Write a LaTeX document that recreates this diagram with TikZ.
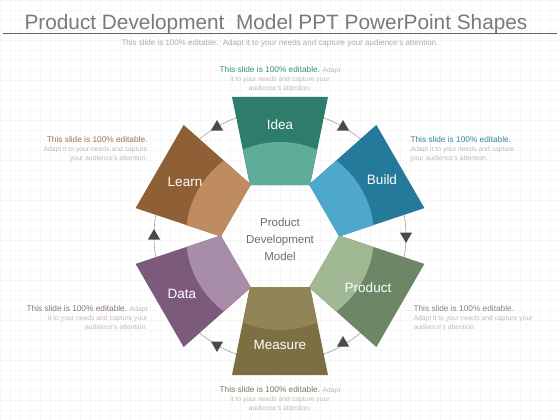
\documentclass[tikz,border=0pt]{standalone}
\usepackage{fontspec}
\setmainfont{Liberation Sans}
\usetikzlibrary{shapes.geometric}
\definecolor{ideaD}{HTML}{2E7D6B}
\definecolor{ideaL}{HTML}{5EAD98}
\definecolor{buildD}{HTML}{257A9B}
\definecolor{buildL}{HTML}{4DA8CB}
\definecolor{prodD}{HTML}{6D8766}
\definecolor{prodL}{HTML}{A0B894}
\definecolor{measD}{HTML}{7C6F42}
\definecolor{measL}{HTML}{918455}
\definecolor{dataD}{HTML}{7B5A7C}
\definecolor{dataL}{HTML}{A88DA8}
\definecolor{learnD}{HTML}{8F5F36}
\definecolor{learnL}{HTML}{BF8C62}
\definecolor{ideaT}{HTML}{3A9080}
\definecolor{buildT}{HTML}{3A86A8}
\definecolor{prodT}{HTML}{7B8C74}
\definecolor{measT}{HTML}{7F7A5E}
\definecolor{dataT}{HTML}{8A6E8A}
\definecolor{learnT}{HTML}{9A7558}
\definecolor{titlegray}{HTML}{7A7A7A}
\definecolor{subgray}{HTML}{ABABAB}
\definecolor{smallgray}{HTML}{BBBBBB}
\definecolor{centergray}{HTML}{6E6E6E}
\definecolor{trigray}{HTML}{4A4A4A}
\definecolor{arcgray}{HTML}{A0A0A0}
\definecolor{gridc}{HTML}{F6F6F6}
\tikzset{
  lbl/.style={text=white, font=\fontsize{13.5}{16}\selectfont},
  tri/.style={regular polygon, regular polygon sides=3, fill=trigray, inner sep=0pt, minimum size=14pt},
  note/.style={text=smallgray, font=\fontsize{6.8}{9}\selectfont},
}
\newcommand{\hd}[1]{{\fontsize{8.3}{9}\selectfont #1}}
\begin{document}
\begin{tikzpicture}[x=1pt,y=-1pt]
\useasboundingbox (0,0) rectangle (560,420);
\fill[white] (0,0) rectangle (560,420);
\draw[gridc, line width=0.3pt, step=10pt] (0,0) grid (560,420);
% title
\node[font=\fontsize{20.8}{24}\selectfont, text=titlegray, anchor=base] (title) at (276,30) {Product Development\ \ Model PPT PowerPoint Shapes};
\coordinate (rl) at (3,34);
\coordinate (rr) at (557,34);
\draw[line width=1pt, titlegray!80!black] (rl) -- (rr);
\node[font=\fontsize{8}{9}\selectfont, text=subgray] (sub) at (280,43) {This slide is 100\% editable.\ \ Adapt it to your needs and capture your audience's attention.};
% connector circle
\coordinate (c) at (280,236);
\draw[arcgray, line width=0.6pt] (c) circle[radius=126pt];
% shapes
\foreach \ang/\dk/\lt in {0/ideaD/ideaL, -60/buildD/buildL, -120/prodD/prodL, 180/measD/measL, 120/dataD/dataL, 60/learnD/learnL}{
  \begin{scope}[shift={(280,236)}, rotate=\ang]
    \fill[\dk] (-48,-139) -- (48,-139) -- (30,-51) -- (-30,-51) -- cycle;
    \begin{scope}
      \clip (-48,-139) -- (48,-139) -- (30,-51) -- (-30,-51) -- cycle;
      \fill[\lt] (0,0) circle[radius=94pt];
    \end{scope}
  \end{scope}
}
% labels
\node[lbl] (idea) at (280,125) {Idea};
\node[lbl] (build) at (382,180) {Build};
\node[lbl] (product) at (368,288) {Product};
\node[lbl] (measure) at (280,345) {Measure};
\node[lbl] (data) at (182,294) {Data};
\node[lbl] (learn) at (185,182) {Learn};
\node[align=center, text=centergray, font=\fontsize{11.5}{17}\selectfont] (center) at (280,239) {Product\\Development\\Model};
% triangles
\node[tri] (t1) at (343,127) {};
\node[tri, rotate=180] (t2) at (406,236) {};
\node[tri] (t3) at (343,343) {};
\node[tri, rotate=180] (t4) at (217,345) {};
\node[tri] (t5) at (154,236) {};
\node[tri] (t6) at (217,127) {};
% notes
\node[note, align=center] (nidea) at (280,79) {\hd{\textcolor{ideaT}{This slide is 100\% editable.}} Adapt\\it to your needs and capture your\\audience's attention.};
\node[note, align=left, anchor=west] (nbuild) at (407,149) {\hd{\textcolor{buildT}{This slide is 100\% editable.}}\\Adapt it to your needs and capture\\your audience's attention.};
\node[note, align=left, anchor=west] (nprod) at (410,318) {\hd{\textcolor{prodT}{This slide is 100\% editable.}}\\Adapt it to your needs and capture your\\audience's attention.};
\node[note, align=center] (nmeas) at (280,399) {\hd{\textcolor{measT}{This slide is 100\% editable.}} Adapt\\it to your needs and capture your\\audience's attention.};
\node[note, align=right, anchor=east] (ndata) at (151,318) {\hd{\textcolor{dataT}{This slide is 100\% editable.}} Adapt\\it to your needs and capture your\\audience's attention.};
\node[note, align=right, anchor=east] (nlearn) at (151,149) {\hd{\textcolor{learnT}{This slide is 100\% editable.}}\\Adapt it to your needs and capture\\your audience's attention.};
\end{tikzpicture}
\end{document}
